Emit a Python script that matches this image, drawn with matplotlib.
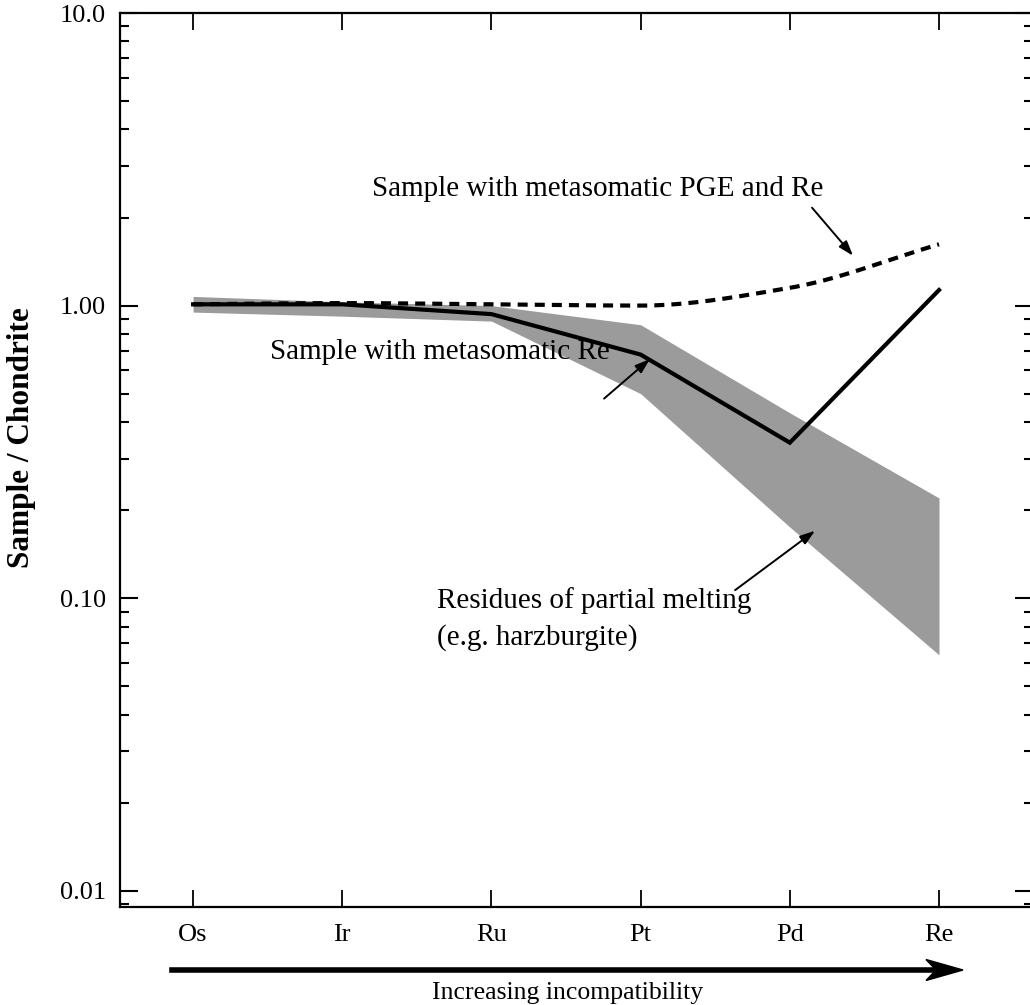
import numpy as np
import matplotlib
matplotlib.use("Agg")
import matplotlib.pyplot as plt
from matplotlib.patches import Polygon
from matplotlib.ticker import FixedLocator, NullFormatter, LogLocator

plt.rcParams['font.family'] = ['Liberation Serif', 'DejaVu Serif']

# PGE + Re, ordered by increasing incompatibility
elements = ["Os", "Ir", "Ru", "Pt", "Pd", "Re"]

# chondrite-normalised values
residue_upper = [1.075, 1.03, 1.00, 0.86, 0.43, 0.22]
residue_lower = [0.95, 0.92, 0.885, 0.50, 0.175, 0.064]
meta_re = [1.01, 1.01, 0.935, 0.68, 0.34, 1.13]
meta_pge_re = [1.01, 1.02, 1.01, 1.0, 1.15, 1.62]

ytick_vals = [0.01, 0.1, 1.0, 10.0]
ytick_text = ["0.01", "0.10", "1.00", "10.0"]


def smooth_log(xs, ys, n=30):
    # monotone cubic (Fritsch-Carlson) in (x, log y) for the dashed curve
    x = np.asarray(xs, float)
    y = np.log10(np.asarray(ys, float))
    h = np.diff(x)
    d = np.diff(y) / h
    m = np.zeros_like(y)
    m[0], m[-1] = d[0], d[-1]
    for k in range(1, len(x) - 1):
        if d[k - 1] * d[k] > 0:
            w1 = 2 * h[k] + h[k - 1]
            w2 = h[k] + 2 * h[k - 1]
            m[k] = (w1 + w2) / (w1 / d[k - 1] + w2 / d[k])
    out_x, out_y = [], []
    t = np.linspace(0, 1, n, endpoint=False)
    for k in range(len(x) - 1):
        h00 = 2 * t**3 - 3 * t**2 + 1
        h10 = t**3 - 2 * t**2 + t
        h01 = -2 * t**3 + 3 * t**2
        h11 = t**3 - t**2
        out_x.extend(x[k] + t * h[k])
        out_y.extend(h00 * y[k] + h10 * h[k] * m[k] + h01 * y[k + 1] + h11 * h[k] * m[k + 1])
    out_x.append(x[-1])
    out_y.append(y[-1])
    return np.array(out_x), 10 ** np.array(out_y)


fig = plt.figure(figsize=(10.30, 10.05), dpi=100)
ax = fig.add_axes([120 / 1030, 1 - 907 / 1005, 913 / 1030, 894 / 1005])

xpos = np.arange(len(elements))

ax.fill_between(xpos, residue_lower, residue_upper, color="#9b9b9b", lw=0, zorder=1)
ax.plot(xpos, meta_re, color="black", lw=3.0, solid_joinstyle="miter", zorder=3)
sx, sy = smooth_log(xpos, meta_pge_re)
ax.plot(sx, sy, color="black", lw=3.0, dashes=(2.4, 1.7), zorder=2)

ax.set_yscale("log")
ax.set_ylim(0.0088, 10.0)
ax.set_xlim(-0.49, 5.63)

ax.set_xticks(xpos)
ax.set_xticklabels(elements)
ax.yaxis.set_major_locator(FixedLocator(ytick_vals))
ax.set_yticklabels(ytick_text)
ax.yaxis.set_minor_locator(LogLocator(base=10, subs=np.arange(2, 10)))
ax.yaxis.set_minor_formatter(NullFormatter())

ax.tick_params(axis="y", which="major", direction="in", length=13, width=1.5,
               left=True, right=True, labelsize=19, pad=10)
ax.tick_params(axis="y", which="minor", direction="in", length=6.5, width=1.5,
               left=True, right=True)
ax.tick_params(axis="x", which="major", direction="in", length=12, width=1.3,
               top=True, bottom=True, labelsize=19, pad=12)
for sp in ax.spines.values():
    sp.set_linewidth(1.6)

fig.text(22 / 1030, 1 - 438 / 1005, "Sample / Chondrite", rotation=90,
         fontsize=22.5, fontweight="bold", ha="center", va="center")

# annotations
txt = dict(fontsize=21, color="black")
arw = dict(arrowstyle="-|>,head_length=0.9,head_width=0.3", color="black", lw=1.4,
           shrinkA=0, shrinkB=0)
ax.text(2.71, 2.37, "Sample with metasomatic PGE and Re", ha="center", va="baseline", **txt)
ax.annotate("", xy=(4.424, 1.48), xytext=(4.149, 2.16), arrowprops=arw)

ax.text(1.655, 0.655, "Sample with metasomatic Re", ha="center", va="baseline", **txt)
ax.annotate("", xy=(3.063, 0.657), xytext=(2.755, 0.481), arrowprops=arw)

ax.text(1.635, 0.0923, "Residues of partial melting", ha="left", va="baseline", **txt)
ax.text(1.635, 0.0692, "(e.g. harzburgite)", ha="left", va="baseline", **txt)
ax.annotate("", xy=(4.169, 0.170), xytext=(3.633, 0.1065), arrowprops=arw)

# incompatibility arrow under the axis
W, H = 1030.0, 1005.0
ay = 1 - 970 / H
fig.add_artist(plt.Line2D([172 / W, 940 / W], [ay, ay], color="black", lw=4.0,
                          transform=fig.transFigure))
head = [(963 / W, ay), (926 / W, ay + 10.5 / H), (936 / W, ay), (926 / W, ay - 10.5 / H)]
fig.add_artist(Polygon(head, closed=True, color="black", transform=fig.transFigure))
fig.text(568 / W, 1 - 993 / H, "Increasing incompatibility", fontsize=18.5,
         ha="center", va="center")

fig.savefig("out.png", dpi=100)
